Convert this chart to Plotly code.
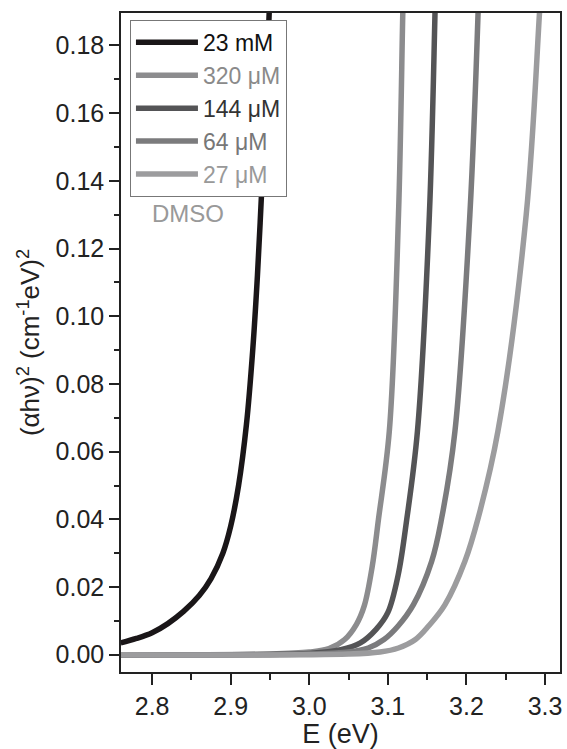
import plotly.graph_objects as go

# ---- data ----
series_names = ["23 mM", "320 μM", "144 μM", "64 μM", "27 μM"]

e_23mM = [2.760, 2.780, 2.800, 2.820, 2.840, 2.860, 2.875, 2.890, 2.900, 2.910,
          2.920, 2.928, 2.934, 2.940, 2.945, 2.949, 2.952]
a_23mM = [0.0035, 0.0048, 0.0065, 0.0092, 0.0128, 0.0175, 0.0225, 0.0300, 0.0380, 0.0500,
          0.0680, 0.0900, 0.1120, 0.1400, 0.1650, 0.1900, 0.2100]

e_320uM = [2.760, 2.950, 3.000, 3.025, 3.045, 3.060, 3.070, 3.080, 3.088, 3.1018,
           3.1135, 3.119, 3.121]
a_320uM = [0.0, 0.0002, 0.0008, 0.0018, 0.0045, 0.0090, 0.0145, 0.0260, 0.0400, 0.0660,
           0.130, 0.190, 0.210]

e_144uM = [2.760, 2.950, 3.000, 3.040, 3.065, 3.085, 3.100, 3.113, 3.124, 3.1376,
           3.1528, 3.160, 3.162]
a_144uM = [0.0, 0.0001, 0.0004, 0.0015, 0.0035, 0.0075, 0.0125, 0.0235, 0.0400, 0.0660,
           0.130, 0.190, 0.210]

e_64uM = [2.760, 3.000, 3.050, 3.075, 3.095, 3.113, 3.1325, 3.1557, 3.1684, 3.1853,
          3.2043, 3.2148, 3.217]
a_64uM = [0.0, 0.0002, 0.0008, 0.0020, 0.0045, 0.0085, 0.0148, 0.0276, 0.0403, 0.0660,
          0.130, 0.190, 0.210]

e_27uM = [2.760, 3.050, 3.090, 3.1135, 3.135, 3.1515, 3.1727, 3.198, 3.2148, 3.240,
          3.276, 3.293, 3.298]
a_27uM = [0.0, 0.0002, 0.0008, 0.0020, 0.0045, 0.0084, 0.0148, 0.0276, 0.0403, 0.0660,
          0.130, 0.190, 0.210]

x_tick_vals = [2.8, 2.9, 3.0, 3.1, 3.2, 3.3]
x_tick_text = ["2.8", "2.9", "3.0", "3.1", "3.2", "3.3"]
y_tick_vals = [0.00, 0.02, 0.04, 0.06, 0.08, 0.10, 0.12, 0.14, 0.16, 0.18]
y_tick_text = ["0.00", "0.02", "0.04", "0.06", "0.08", "0.10", "0.12", "0.14", "0.16", "0.18"]

# ---- styling ----
line_colors = ["#1a1618", "#8c8c8e", "#545456", "#7b7b7d", "#9c9c9e"]
text_colors = ["#111111", "#8a8a8a", "#333333", "#777777", "#999999"]
FONT = "Liberation Sans, Arial, Helvetica, sans-serif"

xs = [e_23mM, e_320uM, e_144uM, e_64uM, e_27uM]
ys = [a_23mM, a_320uM, a_144uM, a_64uM, a_27uM]

fig = go.Figure()
for name, x, y, lc, tc in zip(series_names, xs, ys, line_colors, text_colors):
    fig.add_trace(go.Scatter(
        x=x, y=y, mode="lines",
        name=f"<span style='color:{tc}'>{name}</span>",
        line=dict(color=lc, width=5.5, shape="spline", smoothing=1.0),
    ))

axis_common = dict(
    showline=True, linecolor="#222222", linewidth=1.5, mirror=True,
    ticks="outside", tickcolor="#222222", tickwidth=1.5,
    showgrid=False, zeroline=False,
    tickfont=dict(family=FONT, size=25, color="#222222"),
)

fig.update_layout(
    width=567, height=749,
    margin=dict(l=121, r=5, t=13, b=77),
    paper_bgcolor="white", plot_bgcolor="white",
    font=dict(family=FONT, color="#222222"),
    showlegend=True,
    legend=dict(
        x=0.0204, y=0.9895, xanchor="left", yanchor="top",
        bgcolor="white", bordercolor="#777777", borderwidth=1,
        font=dict(family=FONT, size=23),
        itemwidth=62, tracegroupgap=0,
    ),
    xaxis=dict(
        range=[2.7604, 3.319],
        tickvals=x_tick_vals, ticktext=x_tick_text,
        ticklen=11,
        minor=dict(dtick=0.05, tick0=2.75, ticklen=6, tickcolor="#222222", tickwidth=1.5, ticks="outside"),
        title=dict(text="E (eV)", font=dict(family=FONT, size=27, color="#222222"), standoff=2),
        **axis_common,
    ),
    yaxis=dict(
        range=[-0.0051, 0.1896],
        tickvals=y_tick_vals, ticktext=y_tick_text,
        ticklen=10,
        minor=dict(dtick=0.01, tick0=0, ticklen=5, tickcolor="#222222", tickwidth=1.5, ticks="outside"),
        title=dict(text="(αhν)<sup>2</sup> (cm<sup>-1</sup>eV)<sup>2</sup>",
                   font=dict(family=FONT, size=26, color="#222222"), standoff=8),
        **axis_common,
    ),
    annotations=[dict(
        text="DMSO", xref="paper", yref="paper", x=0.0657, y=0.695,
        xanchor="left", yanchor="middle", showarrow=False,
        font=dict(family=FONT, size=24, color="#999999"),
    )],
)

fig.write_html("out.html")
